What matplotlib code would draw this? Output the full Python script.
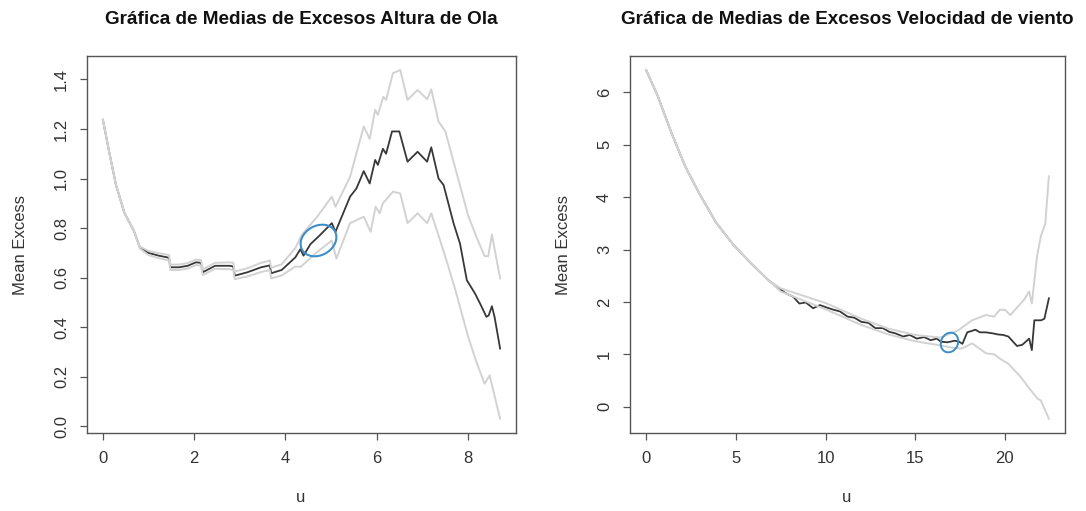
import matplotlib
matplotlib.use('Agg')
import matplotlib.pyplot as plt
from matplotlib.markers import MarkerStyle
from matplotlib.transforms import Affine2D

plt.rcParams['font.family'] = ['Liberation Sans', 'DejaVu Sans']

# Altura de ola: media de excesos y bandas de confianza
ola_u = [0, 0.135, 0.285, 0.47, 0.68, 0.81, 1.0, 1.22, 1.41, 1.45, 1.48, 1.67, 1.86, 2.04,
         2.15, 2.19, 2.46, 2.79, 2.86, 2.89, 3.17, 3.47, 3.62, 3.66, 3.69, 3.92, 4.22, 4.33,
         4.40, 4.55, 4.75, 5.02, 5.10, 5.42, 5.56, 5.72, 5.85, 5.97, 6.03, 6.14, 6.21, 6.34,
         6.50, 6.68, 6.90, 7.11, 7.20, 7.36, 7.47, 7.69, 7.83, 7.98, 8.16, 8.27, 8.41, 8.46,
         8.53, 8.59, 8.71]
ola_media = [1.237, 1.11, 0.976, 0.862, 0.789, 0.722, 0.70, 0.689, 0.682, 0.68, 0.642, 0.642,
             0.648, 0.662, 0.66, 0.622, 0.648, 0.648, 0.645, 0.608, 0.622, 0.642, 0.648, 0.65,
             0.618, 0.631, 0.682, 0.715, 0.689, 0.735, 0.77, 0.82, 0.785, 0.927, 0.96, 1.03,
             0.98, 1.075, 1.055, 1.12, 1.10, 1.19, 1.19, 1.068, 1.108, 1.068, 1.126, 1.0, 0.974,
             0.819, 0.738, 0.59, 0.536, 0.496, 0.442, 0.448, 0.485, 0.44, 0.314]
ola_u_sup = [0, 0.135, 0.285, 0.47, 0.68, 0.81, 1.0, 1.22, 1.41, 1.45, 1.48, 1.67, 1.86, 2.04,
             2.15, 2.19, 2.46, 2.79, 2.86, 2.89, 3.17, 3.47, 3.62, 3.66, 3.69, 3.92, 4.22,
             4.37, 4.70, 5.02, 5.10, 5.42, 5.72, 5.85, 5.97, 6.03, 6.15, 6.21, 6.36, 6.52,
             6.68, 6.90, 7.11, 7.20, 7.36, 7.51, 7.73, 8.01, 8.19, 8.37, 8.45, 8.53, 8.71]
ola_sup = [1.237, 1.11, 0.976, 0.862, 0.789, 0.726, 0.708, 0.699, 0.693, 0.691, 0.653, 0.653,
           0.659, 0.673, 0.671, 0.634, 0.66, 0.662, 0.66, 0.625, 0.638, 0.66, 0.667, 0.67,
           0.64, 0.654, 0.72, 0.775, 0.846, 0.927, 0.886, 1.007, 1.21, 1.16, 1.277, 1.257,
           1.33, 1.317, 1.425, 1.438, 1.317, 1.357, 1.32, 1.36, 1.23, 1.19, 1.04, 0.85, 0.765,
           0.687, 0.687, 0.774, 0.597]
ola_u_inf = [0, 0.135, 0.285, 0.47, 0.68, 0.81, 1.0, 1.22, 1.41, 1.45, 1.48, 1.67, 1.86, 2.04,
             2.15, 2.19, 2.46, 2.79, 2.86, 2.89, 3.17, 3.47, 3.62, 3.66, 3.69, 3.92, 4.22,
             4.34, 4.70, 5.02, 5.12, 5.42, 5.72, 5.87, 5.98, 6.07, 6.14, 6.36, 6.52, 6.68,
             6.90, 7.11, 7.20, 7.36, 7.51, 7.73, 8.01, 8.19, 8.37, 8.48, 8.71]
ola_inf = [1.237, 1.11, 0.976, 0.862, 0.789, 0.718, 0.691, 0.679, 0.671, 0.669, 0.631, 0.631,
           0.637, 0.651, 0.649, 0.611, 0.636, 0.634, 0.63, 0.594, 0.605, 0.623, 0.629, 0.631,
           0.597, 0.609, 0.645, 0.644, 0.704, 0.75, 0.677, 0.82, 0.846, 0.785, 0.886, 0.86,
           0.90, 0.947, 0.94, 0.82, 0.86, 0.82, 0.86, 0.77, 0.684, 0.55, 0.361, 0.26, 0.172,
           0.206, 0.031]
ola_umbral = (4.71, 0.754)

# Velocidad de viento
viento_u = [0, 0.64, 1.41, 2.18, 2.95, 3.91, 4.87, 5.84, 6.80, 7.76, 8.2, 8.54, 8.9, 9.31,
            9.69, 10.1, 10.46, 10.8, 11.23, 11.6, 12.0, 12.4, 12.77, 13.2, 13.55, 13.9, 14.32,
            14.7, 15.09, 15.5, 15.86, 16.2, 16.44, 16.8, 17.21, 17.45, 17.63, 17.9, 18.36,
            18.6, 18.94, 19.33, 19.6, 19.9, 20.19, 20.67, 20.96, 21.35, 21.5, 21.64, 22.02,
            22.2, 22.45]
viento_media = [6.43, 5.94, 5.23, 4.59, 4.08, 3.51, 3.09, 2.74, 2.42, 2.17, 2.10, 1.97, 1.99,
                1.88, 1.94, 1.89, 1.85, 1.82, 1.72, 1.70, 1.62, 1.60, 1.50, 1.50, 1.43, 1.40,
                1.34, 1.37, 1.30, 1.33, 1.27, 1.30, 1.24, 1.23, 1.26, 1.24, 1.20, 1.42, 1.47,
                1.42, 1.42, 1.40, 1.38, 1.37, 1.34, 1.16, 1.18, 1.30, 1.08, 1.65, 1.65, 1.68,
                2.07]
viento_u_sup = [0, 0.64, 1.41, 2.18, 2.95, 3.91, 4.87, 5.84, 6.80, 7.5, 10.0, 12.0, 13.5,
                15.0, 16.4, 17.4, 18.17, 18.94, 19.4, 19.71, 20.0, 20.3, 21.06, 21.35, 21.5,
                21.8, 22.0, 22.25, 22.45]
viento_sup = [6.43, 5.94, 5.23, 4.59, 4.08, 3.51, 3.09, 2.74, 2.42, 2.26, 1.98, 1.68, 1.49,
              1.37, 1.32, 1.46, 1.65, 1.75, 1.72, 1.85, 1.85, 1.75, 2.04, 2.2, 1.97, 2.9, 3.25,
              3.5, 4.40]
viento_u_inf = [0, 0.64, 1.41, 2.18, 2.95, 3.91, 4.87, 5.84, 6.80, 7.5, 10.0, 12.0, 13.5,
                15.0, 16.4, 17.0, 17.6, 18.17, 18.94, 19.4, 19.71, 20.19, 20.87, 21.45, 21.83,
                22.0, 22.45]
viento_inf = [6.43, 5.94, 5.23, 4.59, 4.08, 3.51, 3.09, 2.74, 2.42, 2.20, 1.86, 1.56, 1.38,
              1.25, 1.17, 1.13, 1.11, 1.21, 1.02, 1.0, 0.92, 0.82, 0.57, 0.31, 0.15, 0.12,
              -0.23]
viento_umbral = (16.89, 1.226)

titulos = ['Gráfica de Medias de Excesos Altura de Ola',
           'Gráfica de Medias de Excesos Velocidad de viento']

W, H = 1086, 511
fig = plt.figure(figsize=(W / 100, H / 100), dpi=100)

gris = '#d2d2d2'
oscuro = '#383838'
azul = '#3d8ec8'
caja = '#555555'


def panel(rect, u, media, u_sup, sup, u_inf, inf, umbral, titulo, cx, yticks):
    ax = fig.add_axes(rect)
    ax.plot(u, media, color=oscuro, lw=1.3, zorder=2)
    ax.plot(u_sup, sup, color=gris, lw=1.4, zorder=3)
    ax.plot(u_inf, inf, color=gris, lw=1.4, zorder=3)
    ax.plot([umbral[0]], [umbral[1]], marker='o', ms=1, color=azul, zorder=4)
    ax.margins(x=0.04, y=0.04)
    ax.set_yticks(yticks)
    for s in ax.spines.values():
        s.set_color(caja)
        s.set_linewidth(1.0)
    ax.tick_params(direction='out', length=5, width=0.9, color=caja,
                   labelsize=12, labelcolor='#333333', pad=8)
    for t in ax.get_yticklabels():
        t.set_rotation(90)
        t.set_va('center')
    fig.text(cx / W, 1 - 20 / H, titulo, ha='center', va='center',
             fontsize=13.6, fontweight='bold', color='#111111')
    fig.text(cx / W, 1 - 497 / H, 'u', ha='center', va='center',
             fontsize=12, color='#333333')
    return ax


def elipse(sx, sy, ang):
    return MarkerStyle('o', fillstyle='none',
                       transform=Affine2D().scale(sx, sy).rotate_deg(ang))


ax1 = panel([87 / W, 1 - 432.7 / H, 429 / W, 376.7 / H], ola_u, ola_media, ola_u_sup,
            ola_sup, ola_u_inf, ola_inf, ola_umbral, titulos[0], 301,
            [0.0, 0.2, 0.4, 0.6, 0.8, 1.0, 1.2, 1.4])
ax1.lines[-1].set_marker(elipse(1.13, 0.88, 30))
ax1.lines[-1].set_markersize(24)
ax1.lines[-1].set_markeredgewidth(1.5)
ax1.set_yticklabels(['0.0', '0.2', '0.4', '0.6', '0.8', '1.0', '1.2', '1.4'])
ax1.set_xticks([0, 2, 4, 6, 8])

ax2 = panel([630 / W, 1 - 432.7 / H, 435 / W, 376.7 / H], viento_u, viento_media,
            viento_u_sup, viento_sup, viento_u_inf, viento_inf, viento_umbral,
            titulos[1], 847, [0, 1, 2, 3, 4, 5, 6])
ax2.lines[-1].set_marker(elipse(1.08, 0.9, 65))
ax2.lines[-1].set_markersize(13.5)
ax2.lines[-1].set_markeredgewidth(1.4)
ax2.set_xticks([0, 5, 10, 15, 20])

fig.text(21 / W, 1 - 245 / H, 'Mean Excess', rotation=90, ha='center', va='center',
         fontsize=12, color='#333333')
fig.text(564 / W, 1 - 245 / H, 'Mean Excess', rotation=90, ha='center', va='center',
         fontsize=12, color='#333333')

fig.savefig('out.png', dpi=100)
